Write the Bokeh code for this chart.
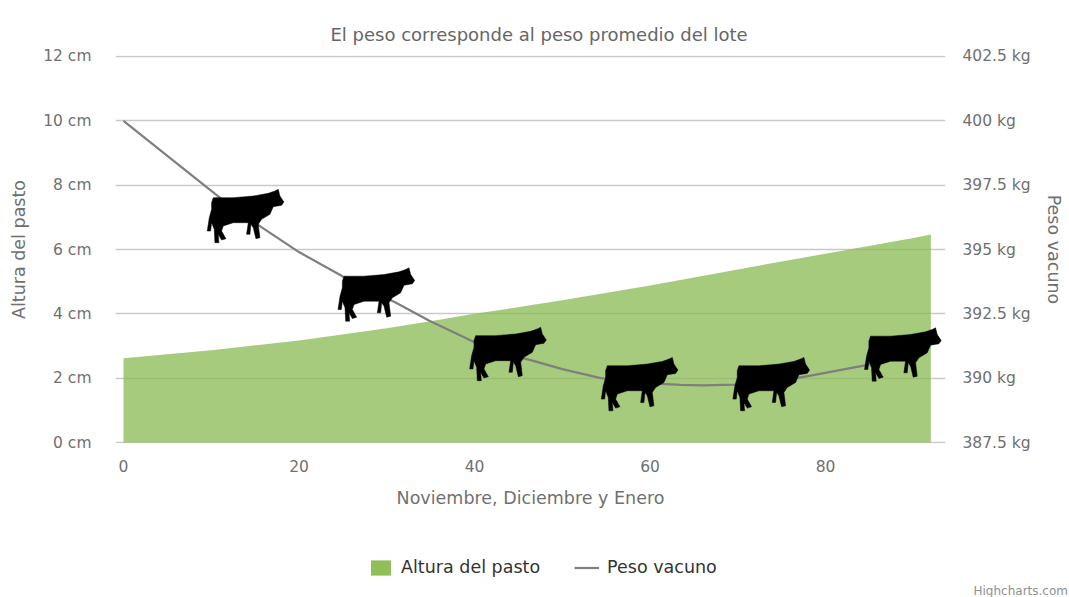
from bokeh.plotting import figure
from bokeh.layouts import column
from bokeh.models import Range1d, LinearAxis, FixedTicker, Legend, LegendItem, Title
from bokeh.embed import file_html
from bokeh.resources import INLINE

FONT = "DejaVu Sans"
title_text = "El peso corresponde al peso promedio del lote"
x_title = "Noviembre, Diciembre y Enero"
left_title = "Altura del pasto"
right_title = "Peso vacuno"
credit = "Highcharts.com"

grass_x = [0, 10, 20, 30, 34.8, 40, 50, 60, 70, 80, 90, 92]
grass_cm = [2.62, 2.87, 3.17, 3.55, 3.76, 4.0, 4.42, 4.88, 5.38, 5.87, 6.36, 6.47]

weight_x = [0, 5, 10.8, 15.8, 20, 25, 31, 34.8, 37.5, 40, 43, 46.4, 50, 54.4, 59, 63.5, 66, 69.7, 74, 78.3, 84.5, 92]
weight_kg = [400, 398.64, 397.06, 395.85, 394.9, 393.95, 392.94, 392.24, 391.8, 391.4, 391.0, 390.7, 390.35, 390.0,
             389.82, 389.74, 389.72, 389.75, 389.85, 390.1, 390.5, 391.3]

cow_x = [13.8, 28.7, 43.7, 58.7, 73.7, 88.7]
cow_kg = [396.43, 393.38, 391.07, 389.9, 389.9, 391.05]

left_ticks = [0, 2, 4, 6, 8, 10, 12]
left_labels = ["0 cm", "2 cm", "4 cm", "6 cm", "8 cm", "10 cm", "12 cm"]
right_ticks = [387.5, 390, 392.5, 395, 397.5, 400, 402.5]
right_labels = ["387.5 kg", "390 kg", "392.5 kg", "395 kg", "397.5 kg", "400 kg", "402.5 kg"]
x_ticks = [0, 20, 40, 60, 80]

# cow silhouette, traced at 3x around its centre (234, 150)
cow_shape = [(140,105),(200,105),(260,100),(305,92),(325,85),(335,80),(340,100),(352,118),(345,128),(320,132),
             (310,155),(285,170),(275,185),(280,225),(268,228),(260,195),(253,185),(250,215),(240,215),(245,180),
             (200,180),(170,190),(165,205),(178,228),(165,232),(155,215),(157,240),(145,240),(143,200),(135,180),
             (132,205),(122,205),(128,165),(135,140),(135,120)]

PAD_CM = 0.03                      # keeps the 0 and 12 gridlines inside the frame
PX_PER_CM = 32.17
FRAME_W = 830
FRAME_H = round(PX_PER_CM * (12 + 2 * PAD_CM))
TOTAL_W, MAIN_H, FOOT_H = 1069, 512, 85
x0, x1 = -0.91, 93.67
p = figure(width=TOTAL_W, height=MAIN_H, frame_width=FRAME_W, frame_height=FRAME_H,
           output_backend="svg", toolbar_location=None,
           x_range=Range1d(x0, x1), y_range=Range1d(-PAD_CM, 12 + PAD_CM),
           min_border_left=115, min_border_right=124, min_border_top=55, min_border_bottom=69)
p.outline_line_color = None
p.background_fill_color = "white"
p.extra_y_ranges = {"kg": Range1d(387.5 - PAD_CM * 1.25, 402.5 + PAD_CM * 1.25)}

p.xgrid.visible = False
p.ygrid.ticker = FixedTicker(ticks=left_ticks)
p.ygrid.grid_line_color = "#c9c9c9"
p.ygrid.grid_line_width = 1.5

px_per_x = FRAME_W / (x1 - x0)
px_per_kg = PX_PER_CM / 1.25
cow_xs = [[cx + ((sx - 234) / 3) / px_per_x for sx, sy in cow_shape] for cx in cow_x]
cow_ys = [[cy - ((sy - 150) / 3) / px_per_kg for sx, sy in cow_shape] for cy in cow_kg]

LINE_STYLE = dict(line_color="#7f7f7f", line_width=2.2)
p.varea(grass_x, [0] * len(grass_x), grass_cm, fill_color="#8aba50", fill_alpha=0.75)
p.line(weight_x, weight_kg, y_range_name="kg", **LINE_STYLE)
p.patches(cow_xs, cow_ys, y_range_name="kg", fill_color="black", line_color="black", line_width=0.5)

def style(ax):
    ax.axis_line_color = None
    ax.major_tick_line_color = None
    ax.minor_tick_line_color = None
    ax.major_tick_out = 0
    ax.major_tick_in = 0
    ax.minor_tick_out = 0
    ax.minor_tick_in = 0
    ax.major_label_text_font = FONT
    ax.major_label_text_font_size = "15.5px"
    ax.major_label_text_color = "#707070"
    ax.axis_label_text_font = FONT
    ax.axis_label_text_font_size = "17.5px"
    ax.axis_label_text_font_style = "normal"
    ax.axis_label_text_color = "#707070"

ya = p.yaxis[0]
ya.ticker = FixedTicker(ticks=left_ticks)
ya.major_label_overrides = dict(zip(left_ticks, left_labels))
ya.axis_label = left_title
ya.major_label_standoff = 24
ya.axis_label_standoff = 11
style(ya)

yr = LinearAxis(y_range_name="kg", ticker=FixedTicker(ticks=right_ticks),
                major_label_overrides=dict(zip(right_ticks, right_labels)),
                axis_label=right_title, major_label_standoff=17, axis_label_standoff=10)
style(yr)
p.add_layout(yr, "right")

xa = p.xaxis[0]
xa.ticker = FixedTicker(ticks=x_ticks)
xa.axis_label = x_title
xa.major_label_standoff = 16
xa.axis_label_standoff = 13
style(xa)

p.add_layout(Title(text=title_text, align="left", offset=215, text_font=FONT, text_font_size="18px",
                   text_font_style="normal", text_color="#666666", standoff=22), "above")

# footer strip: legend and credit; its y range keeps the key's own series out of view
foot = figure(width=TOTAL_W, height=FOOT_H, output_backend="svg", toolbar_location=None,
              x_range=Range1d(0, TOTAL_W), y_range=Range1d(1000, 1000 + FOOT_H),
              x_axis_location=None, y_axis_location=None,
              min_border=0, min_border_left=0, min_border_right=0, min_border_top=0, min_border_bottom=0)
foot.grid.visible = False
foot.outline_line_color = None
key_area = foot.varea(grass_x, [0] * len(grass_x), grass_cm, fill_color="#8aba50", fill_alpha=0.95)
key_line = foot.line(weight_x, weight_kg, **LINE_STYLE)

FOOT_SHIFT = 105   # the layout sets the footer's frame this far in from the page edge
legend = Legend(items=[LegendItem(label="Altura del pasto", renderers=[key_area]),
                       LegendItem(label="Peso vacuno", renderers=[key_line])],
                orientation="horizontal", location=(358 - FOOT_SHIFT, 4), margin=0,
                border_line_color=None, background_fill_alpha=0,
                label_text_font=FONT, label_text_font_size="17.5px", label_text_color="#333333",
                glyph_width=25, glyph_height=19, spacing=34, label_standoff=8)
foot.add_layout(legend, "center")

foot.add_layout(Title(text=credit, align="left", offset=963 - FOOT_SHIFT, text_font=FONT, text_font_size="12px",
                      text_font_style="normal", text_color="#909090", standoff=0), "below")

open("out.html", "w").write(file_html(column(p, foot, spacing=0), INLINE))
